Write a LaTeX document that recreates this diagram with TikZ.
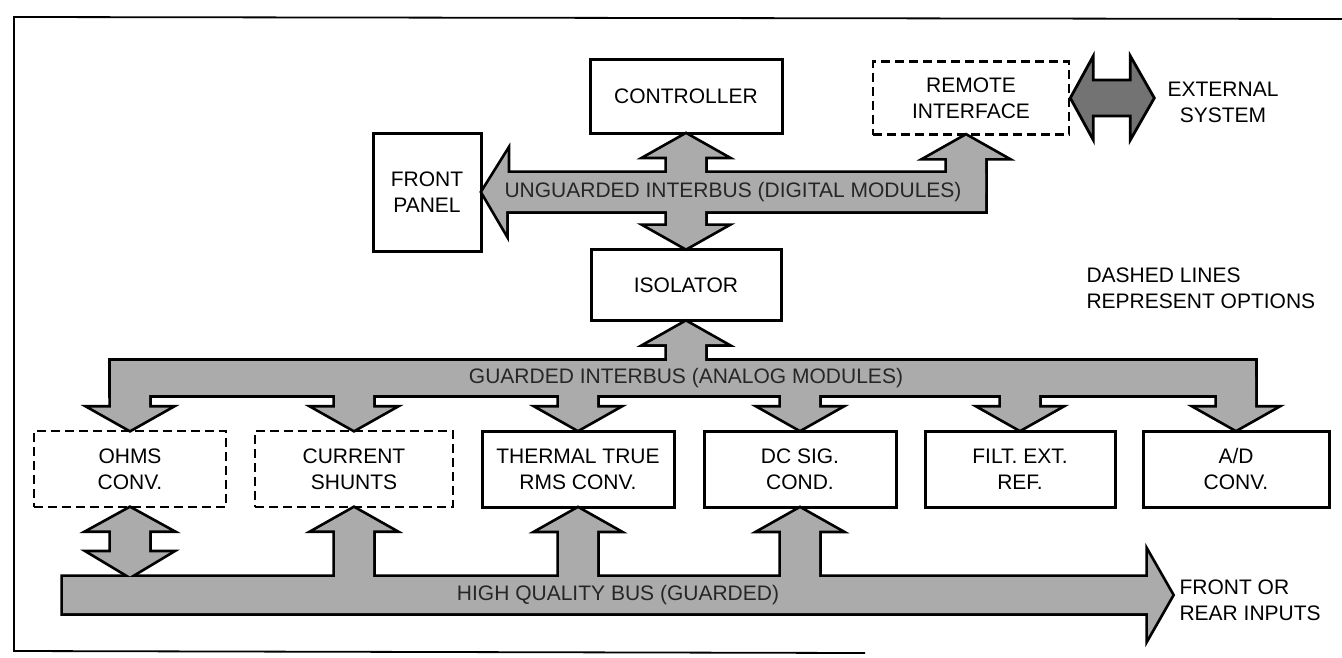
\documentclass[tikz,border=0pt]{standalone}
\usepackage{fontspec}
\setmainfont{Liberation Sans}
\usetikzlibrary{backgrounds}
\colorlet{busgray}{black!33}

\newcommand{\buspart}[1]{%
  \begin{scope}[on background layer]
    \filldraw[line width=5.5pt] #1;
  \end{scope}
  \fill[busgray] #1;}
\newcommand{\busup}[2]{\buspart{(#1) -- ++(39,22) -- ++(-20,0) -- ++(0,#2) -- ++(-38,0) -- ++(0,-#2) -- ++(-20,0) -- cycle}}
\newcommand{\busdown}[2]{\buspart{(#1) -- ++(39,-22) -- ++(-20,0) -- ++(0,-#2) -- ++(-38,0) -- ++(0,#2) -- ++(-20,0) -- cycle}}

\begin{document}
\begin{tikzpicture}[x=1pt,y=-1pt,font=\fontsize{21}{26}\selectfont]
\tikzset{box/.style={draw,line width=3pt,align=center,minimum width=192pt,minimum height=76pt},
  optbox/.style={box,line width=2.6pt,dash pattern=on 9pt off 5pt},
  buslabel/.style={text=black!85,inner sep=0pt}}
\useasboundingbox (0,0) rectangle (1342,657);
\draw[line width=1.8pt] (1342,19) -- (14,17) -- (14,651) -- (865,653);

% digital side
\node[box,minimum height=74pt] (ctrl) at (686,96) {CONTROLLER};
\node[optbox,minimum width=196pt,minimum height=73pt] (rem) at (971,98) {REMOTE\\INTERFACE};
\node[box,minimum width=108pt,minimum height=118pt] (fp) at (427,192) {FRONT\\PANEL};
\node[box,minimum width=190pt,minimum height=71pt] (iso) at (686,285) {ISOLATOR};
\node[align=center] (ext) at (1223,102) {EXTERNAL\\SYSTEM};
\node[align=left,anchor=west] (legend) at (1083,288) {DASHED LINES\\REPRESENT OPTIONS};

% analog modules
\node[optbox] (ohms) at (130,469) {OHMS\\CONV.};
\node[optbox,minimum width=198pt] (cur) at (354,469) {CURRENT\\SHUNTS};
\node[box] (rms) at (578,469) {THERMAL TRUE\\RMS CONV.};
\node[box] (dcsig) at (800,469) {DC SIG.\\COND.};
\node[box,minimum width=190pt] (filt) at (1020,469) {FILT. EXT.\\REF.};
\node[box,minimum width=186pt] (adc) at (1236,469) {A/D\\CONV.};
\node[align=left,anchor=west] (inputs) at (1176,600) {FRONT OR\\REAR INPUTS};
\coordinate (hqtip) at (1172,595);

% unguarded interbus
\buspart{(fp.east) -- ++(25,-40) -- ++(0,21) -- (985,173) -- (985,211) -- (506,211) -- (506,232) -- cycle}
\busup{ctrl.south}{37}
\busdown{iso.north}{35}
\busup{[xshift=-5pt]rem.south}{35}
\filldraw[line width=2.8pt,fill=black!55] (rem.east) -- ++(23,-42) -- ++(0,24) -- ++(37,0) -- ++(0,-24)
  -- ++(24,42) -- ++(-24,42) -- ++(0,-24) -- ++(-37,0) -- ++(0,24) -- cycle;

% guarded interbus
\buspart{(111,361) rectangle (1255,395)}
\busup{iso.south}{36}
\foreach \m in {ohms,cur,rms,dcsig,filt,adc}
  {\busdown{\m.north}{31}}

% high quality bus
\buspart{(63,577) -- (1148,577) -- (1148,553) -- (hqtip) -- (1148,637) -- (1148,613) -- (63,613) -- cycle}
\foreach \m in {cur,rms,dcsig}
  {\busup{\m.south}{66}}
\buspart{(ohms.south) -- ++(40,22) -- ++(-21,0) -- ++(0,22) -- ++(21,0) -- ++(-40,24)
  -- ++(-40,-24) -- ++(21,0) -- ++(0,-22) -- ++(-21,0) -- cycle}

\node[buslabel] (ulabel) at (733,192) {UNGUARDED INTERBUS (DIGITAL MODULES)};
\node[buslabel] (glabel) at (686,378) {GUARDED INTERBUS (ANALOG MODULES)};
\node[buslabel] (hlabel) at (618,595) {HIGH QUALITY BUS (GUARDED)};
\end{tikzpicture}
\end{document}
